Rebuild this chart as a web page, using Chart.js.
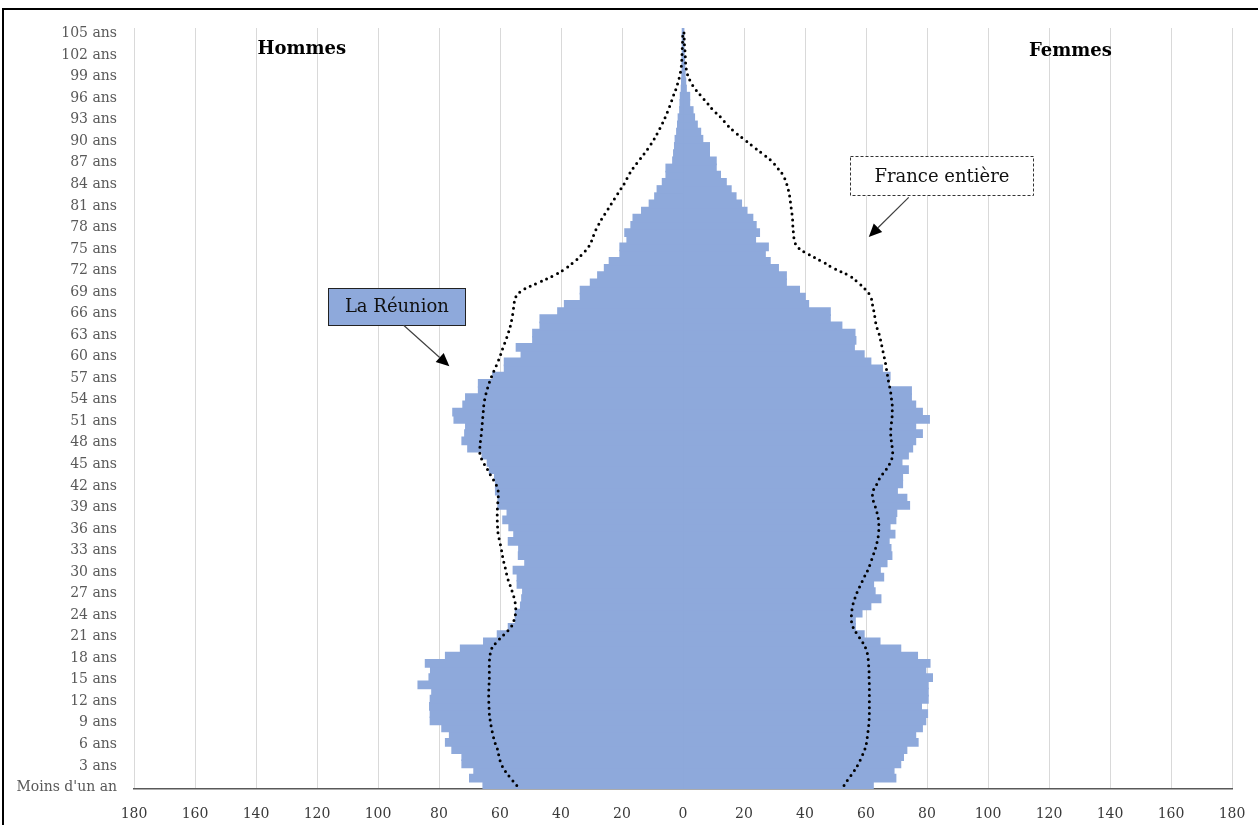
<!DOCTYPE html>
<html>
<head>
<meta charset="utf-8">
<script src="https://cdn.jsdelivr.net/npm/chart.js@4.4.0/dist/chart.umd.min.js"></script>
<style>
  html, body { margin: 0; padding: 0; background: #fff; overflow: hidden; }
  #frame { position: absolute; left: 2px; top: 8px; width: 1270px; height: 830px; border: 2px solid #000; }
  #pyramid { position: absolute; left: 0; top: 0; }
</style>
</head>
<body>
<div id="frame"></div>
<canvas id="pyramid" width="1258" height="825"></canvas>
<script>
// ages 0 .. 105 (index = age)
const ageLabels = Array.from({ length: 106 }, (_, a) => a === 0 ? "Moins d'un an" : a + ' ans');

// La Réunion, hommes (shown on the left)
const reunionHommes = [
    65.5, 69.9, 68.5, 72.4, 72.4, 75.7, 77.8, 76.5, 79.0, 82.8,
    82.8, 83.0, 82.8, 82.3, 86.8, 83.2, 82.7, 84.4, 77.8, 72.9,
    65.3, 60.8, 57.2, 54.9, 54.9, 53.2, 52.8, 52.5, 54.3, 54.3,
    55.6, 51.8, 53.9, 53.8, 57.2, 55.4, 57.0, 59.0, 57.6, 60.6,
    60.6, 61.4, 61.4, 61.7, 63.4, 64.1, 65.8, 70.5, 72.4, 71.5,
    71.2, 75.0, 75.4, 72.1, 71.2, 67.0, 67.0, 62.3, 58.5, 58.5,
    53.0, 54.6, 49.2, 49.2, 46.8, 46.8, 41.0, 38.8, 33.6, 33.6,
    30.3, 27.9, 25.7, 24.1, 20.6, 20.6, 18.3, 19.0, 17.0, 16.3,
    13.5, 11.0, 9.2, 8.4, 6.7, 5.5, 5.5, 3.3, 3.0, 2.7,
    2.5, 2.0, 1.7, 1.5, 1.0, 0.9, 0.8, 0.5, 0.4, 0.3,
    0.2, 0.2, 0.1, 0.1, 0.1, 0.1
];

// La Réunion, femmes (right)
const reunionFemmes = [
    62.3, 69.7, 69.1, 71.3, 72.2, 73.3, 77.0, 76.2, 78.4, 79.5,
    80.1, 78.1, 80.3, 80.3, 80.3, 81.7, 79.5, 80.9, 76.8, 71.3,
    64.5, 59.3, 56.4, 56.4, 58.6, 61.5, 64.8, 62.9, 62.4, 65.7,
    64.6, 66.8, 68.4, 68.1, 67.5, 69.4, 67.8, 69.7, 70.0, 74.2,
    73.3, 70.2, 71.9, 71.9, 73.8, 71.7, 73.8, 75.2, 76.2, 78.4,
    76.2, 80.7, 78.4, 76.2, 74.8, 74.8, 67.5, 67.8, 65.3, 61.5,
    59.3, 56.1, 56.6, 56.3, 52.0, 48.2, 48.2, 41.1, 40.0, 38.1,
    33.8, 33.8, 31.2, 28.5, 26.9, 27.9, 23.7, 25.0, 23.9, 22.8,
    20.9, 19.1, 17.3, 15.7, 14.1, 12.2, 10.8, 10.8, 8.6, 8.6,
    6.4, 5.7, 4.6, 3.7, 3.2, 2.1, 2.1, 1.0, 0.8, 0.6,
    0.5, 0.4, 0.3, 0.2, 0.2, 0.2
];

// France entière, hommes (dotted line, left)
const franceHommes = [
    54.5, 56.5, 58.3, 59.6, 60.3, 60.8, 61.7, 62.3, 62.8, 63.2,
    63.5, 63.6, 63.7, 63.7, 63.6, 63.5, 63.5, 63.5, 63.3, 62.8,
    61.0, 58.7, 56.5, 55.4, 54.9, 54.9, 55.3, 56.0, 56.8, 57.6,
    58.1, 58.7, 59.2, 59.6, 60.1, 60.6, 60.8, 60.9, 60.9, 60.8,
    60.6, 60.6, 61.4, 62.8, 64.1, 65.5, 66.5, 66.6, 66.4, 66.1,
    65.9, 65.7, 65.5, 65.3, 64.9, 64.3, 63.6, 62.7, 61.7, 60.7,
    59.8, 59.0, 58.1, 57.3, 56.6, 56.1, 55.7, 55.4, 54.9, 52.5,
    47.5, 42.5, 38.5, 35.5, 33.0, 31.0, 29.8, 29.0, 27.8, 26.5,
    25.0, 23.5, 22.0, 20.5, 19.0, 17.8, 16.3, 14.5, 12.7, 11.0,
    9.5, 8.2, 7.0, 5.9, 4.9, 4.0, 3.2, 2.3, 1.6, 1.0,
    0.6, 0.4, 0.3, 0.2, 0.1, 0.1
];

// France entière, femmes (dotted line, right)
const franceFemmes = [
    52.8, 54.4, 56.1, 57.5, 58.6, 59.6, 60.2, 60.5, 60.8, 61.0,
    61.1, 61.1, 61.1, 61.1, 61.1, 61.0, 61.0, 60.8, 60.6, 60.0,
    58.8, 57.2, 55.8, 55.2, 55.3, 55.6, 56.3, 57.2, 58.3, 59.4,
    60.6, 61.5, 62.3, 63.1, 63.7, 64.1, 64.2, 64.1, 63.6, 62.9,
    62.2, 62.3, 63.6, 64.8, 66.6, 68.0, 68.7, 68.6, 68.3, 68.1,
    68.2, 68.5, 68.6, 68.6, 68.3, 68.0, 67.5, 67.1, 66.7, 66.3,
    65.8, 65.3, 64.8, 64.2, 63.4, 63.0, 62.6, 62.1, 61.6, 60.0,
    57.5, 54.5, 49.5, 45.5, 41.0, 37.5, 36.5, 36.2, 36.0, 35.9,
    35.6, 35.3, 35.0, 34.5, 33.8, 32.8, 31.0, 29.0, 26.0, 23.0,
    20.0, 17.0, 14.5, 12.5, 10.0, 8.0, 6.0, 4.0, 2.5, 1.5,
    1.0, 0.8, 0.7, 0.5, 0.4, 0.3
];

const barColor = '#8EA9DB';
const axisFont = { family: "'DejaVu Serif', serif", size: 14 };

// annotation anchors, in data units (x value, age)
const sideLabels = [
    { text: 'Hommes', x: -125, age: 102.5 },
    { text: 'Femmes', x: 127, age: 102.3 }
];
const callouts = [
    { text: 'La Réunion', x: -93.8, age: 66.7, w: 137, h: 37, fill: barColor, dashed: false,
      from: [-91.6, 64.1], to: [-76.6, 58.4] },
    { text: 'France entière', x: 84.9, age: 84.9, w: 183, h: 39, fill: '#ffffff', dashed: true,
      from: [74.0, 81.9], to: [60.9, 76.4] }
];

function drawArrow(ctx, x1, y1, x2, y2) {
    const ang = Math.atan2(y2 - y1, x2 - x1);
    const len = 13, half = 6;
    const bx = x2 - len * Math.cos(ang), by = y2 - len * Math.sin(ang);
    ctx.strokeStyle = '#404040';
    ctx.lineWidth = 1.2;
    ctx.beginPath();
    ctx.moveTo(x1, y1);
    ctx.lineTo(bx, by);
    ctx.stroke();
    ctx.fillStyle = '#000';
    ctx.beginPath();
    ctx.moveTo(x2, y2);
    ctx.lineTo(bx + half * Math.sin(ang), by - half * Math.cos(ang));
    ctx.lineTo(bx - half * Math.sin(ang), by + half * Math.cos(ang));
    ctx.closePath();
    ctx.fill();
}

const annotationPlugin = {
    id: 'annotations',
    afterDatasetsDraw(chart) {
        const ctx = chart.ctx;
        const xs = chart.scales.x, ys = chart.scales.y;
        ctx.save();
        ctx.textAlign = 'center';
        ctx.textBaseline = 'middle';

        ctx.fillStyle = '#000';
        ctx.font = "bold 18px 'DejaVu Serif', serif";
        sideLabels.forEach(l => {
            ctx.fillText(l.text, xs.getPixelForValue(l.x), ys.getPixelForValue(l.age));
        });

        callouts.forEach(c => {
            const cx = xs.getPixelForValue(c.x), cy = ys.getPixelForValue(c.age);
            const left = Math.round(cx - c.w / 2) + 0.5, top = Math.round(cy - c.h / 2) + 0.5;
            ctx.fillStyle = c.fill;
            ctx.fillRect(left, top, c.w, c.h);
            ctx.strokeStyle = c.dashed ? '#333' : '#222';
            ctx.lineWidth = 1;
            ctx.setLineDash(c.dashed ? [3, 2] : []);
            ctx.strokeRect(left, top, c.w, c.h);
            ctx.setLineDash([]);
            ctx.fillStyle = '#111';
            ctx.font = "18px 'DejaVu Serif', serif";
            ctx.fillText(c.text, cx, cy + 1);
            drawArrow(ctx,
                xs.getPixelForValue(c.from[0]), ys.getPixelForValue(c.from[1]),
                xs.getPixelForValue(c.to[0]), ys.getPixelForValue(c.to[1]));
        });
        ctx.restore();
    }
};

const dotted = {
    type: 'line',
    borderColor: '#000',
    borderWidth: 3,
    borderDash: [0, 6],
    borderCapStyle: 'round',
    pointRadius: 0,
    tension: 0.4,
    fill: false,
    order: 0
};

const barStyle = {
    backgroundColor: barColor,
    borderWidth: 0,
    inflateAmount: 0.8,
    barPercentage: 1,
    categoryPercentage: 1,
    grouped: false,
    order: 1
};

new Chart(document.getElementById('pyramid'), {
    type: 'bar',
    data: {
        labels: ageLabels,
        datasets: [
            Object.assign({ label: 'La Réunion - hommes', data: reunionHommes.map(v => -v) }, barStyle),
            Object.assign({ label: 'La Réunion - femmes', data: reunionFemmes }, barStyle),
            Object.assign({ label: 'France entière - hommes', data: franceHommes.map(v => -v) }, dotted),
            Object.assign({ label: 'France entière - femmes', data: franceFemmes }, dotted)
        ]
    },
    options: {
        indexAxis: 'y',
        responsive: false,
        animation: false,
        layout: { padding: { top: 28, right: 26, bottom: 0, left: 0 } },
        plugins: {
            legend: { display: false },
            tooltip: { enabled: false }
        },
        scales: {
            x: {
                type: 'linear',
                min: -180,
                max: 180,
                grid: { color: '#d9d9d9', lineWidth: 1, drawTicks: true, tickLength: 15, tickColor: 'rgba(0,0,0,0)' },
                border: { display: true, color: '#595959', width: 1.5 },
                ticks: {
                    stepSize: 20,
                    padding: 2,
                    color: '#3a3a3a',
                    font: axisFont,
                    callback: v => Math.abs(v)
                },
                afterFit: s => { s.height = 36; }
            },
            y: {
                type: 'category',
                reverse: true,
                grid: { display: false, drawTicks: false },
                border: { display: false },
                ticks: {
                    autoSkip: false,
                    padding: 17,
                    labelOffset: 2,
                    color: '#595959',
                    font: axisFont,
                    callback: function (v, i) { return i % 3 === 0 ? this.getLabelForValue(v) : ''; }
                },
                afterFit: s => { s.width = 134; }
            }
        }
    },
    plugins: [annotationPlugin]
});
</script>
</body>
</html>
